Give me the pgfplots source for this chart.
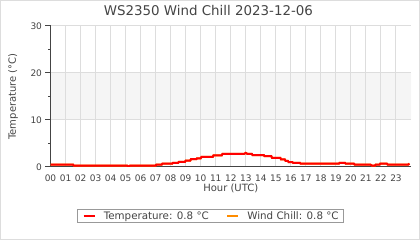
\documentclass[border=0pt]{standalone}
\usepackage{fontspec}
\setmainfont{DejaVu Sans}
\usepackage{pgfplots}
\usepackage{pgfplotstable}
\pgfplotsset{compat=1.18}
\definecolor{gridc}{HTML}{DDDDDD}
\definecolor{bandc}{HTML}{F5F5F5}
\definecolor{axc}{HTML}{444444}
\definecolor{txtc}{HTML}{444444}
\definecolor{tempc}{HTML}{FF0000}
\definecolor{chillc}{HTML}{FF8C00}

\pgfplotstableread{
h t
0 0.5
1.5 0.5
1.55 0.3
5.1 0.3
5.2 0.1
5.3 0.3
7.0 0.3
7.05 0.5
7.4 0.5
7.45 0.7
8.1 0.7
8.15 0.9
8.5 0.9
8.55 1.1
8.95 1.1
9.0 1.35
9.3 1.35
9.35 1.65
9.7 1.65
9.75 1.85
10.0 1.85
10.05 2.15
10.8 2.15
10.85 2.45
11.4 2.45
11.45 2.8
12.9 2.8
13.0 3.0
13.1 2.8
13.4 2.8
13.45 2.55
14.2 2.55
14.25 2.3
14.7 2.3
14.75 1.95
15.3 1.95
15.35 1.6
15.6 1.6
15.65 1.3
15.8 1.3
15.85 1.05
16.1 1.05
16.15 0.9
16.6 0.9
16.65 0.7
19.2 0.7
19.25 0.9
19.6 0.9
19.65 0.7
20.2 0.7
20.25 0.5
21.3 0.5
21.4 0.3
21.6 0.3
21.65 0.5
21.9 0.5
21.95 0.7
22.4 0.7
22.45 0.5
23.8 0.5
23.9 0.7
}\tempdata

\begin{document}
\begin{tikzpicture}
\begin{axis}[
  set layers=standard,
  at={(50.5pt,73pt)}, anchor=south west,
  scale only axis, width=360.5pt, height=141pt,
  xmin=0, xmax=24, ymin=0, ymax=30,
  axis lines=left,
  axis line style={-, axc, line width=1pt},
  xtick={0,...,23},
  xticklabels={00,01,02,03,04,05,06,07,08,09,10,11,12,13,14,15,16,17,18,19,20,21,22,23},
  xtick style={draw=none},
  ytick={0,10,20,30},
  minor ytick={5,15,25},
  ytick style={axc, line width=1pt},
  minor tick style={axc, line width=1pt},
  tick align=outside,
  major tick length=5pt,
  minor tick length=2.5pt,
  xmajorgrids, ymajorgrids,
  grid style={gridc, line width=1pt},
  /pgf/number format/assume math mode=true,
  ticklabel style={font=\fontsize{9}{11}\selectfont, text=txtc},
  xticklabel style={yshift=1pt},
  title={WS2350 Wind Chill 2023-12-06},
  every axis title/.style={font=\fontsize{13.4}{16}\selectfont, text=txtc, at={(axis description cs:0.438,1)}, anchor=base, yshift=10.3pt},
  xlabel={Hour (UTC)},
  every axis x label/.style={font=\fontsize{10}{12}\selectfont, text=txtc, at={(axis description cs:0.5,0)}, anchor=base, yshift=-25pt},
  ylabel={Temperature (°C)},
  every axis y label/.style={font=\fontsize{10}{12}\selectfont, text=txtc, at={(axis description cs:-0.104,0.5)}, rotate=90, anchor=center},
  legend columns=2,
  legend style={at={(axis description cs:0.4438,-0.3475)}, anchor=center, draw=gray!80, line width=0.8pt,
    font=\fontsize{10.3}{12}\selectfont, text=txtc, inner xsep=5pt, inner ysep=2pt,
    nodes={inner sep=0pt},
    /tikz/every odd column/.append style={column sep=8pt},
    /tikz/every even column/.append style={column sep=17pt}},
  legend image code/.code={\draw[#1, line width=2.5pt] (0pt,0pt) -- (11pt,0pt);},
  legend cell align=left,
]
\addplot[fill=bandc, draw=none, forget plot, on layer=axis background] coordinates {(0,10) (24,10) (24,20) (0,20) (0,10)};
\addplot[chillc, line width=2pt, forget plot] table[x=h, y=t] {\tempdata};
\addplot[tempc, line width=2pt] table[x=h, y=t] {\tempdata};
\addlegendentry{Temperature: 0.8 °C}
\addlegendimage{chillc}
\addlegendentry{Wind Chill: 0.8 °C}
\end{axis}
\draw[gridc, line width=1pt] (0.5pt,0.5pt) rectangle (419.5pt,239.5pt);
\end{tikzpicture}
\end{document}
